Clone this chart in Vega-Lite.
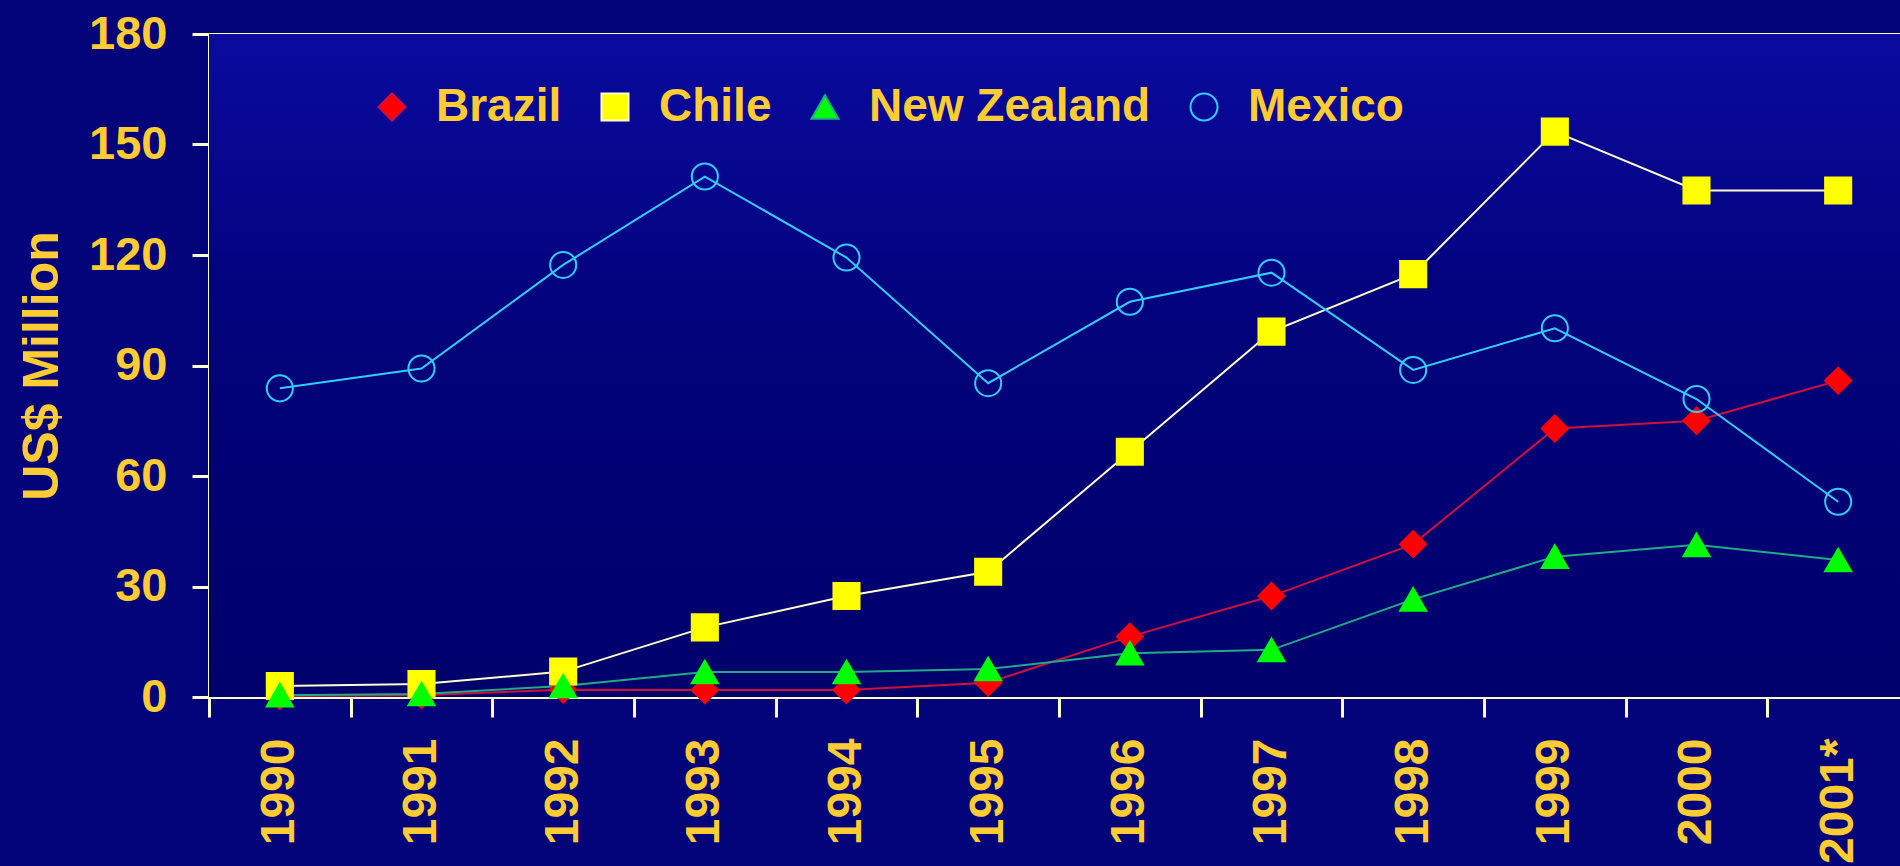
{
  "$schema": "https://vega.github.io/schema/vega-lite/v6.json",
  "autosize": {"type": "none"},
  "width": 1700,
  "height": 663,
  "padding": {"left": 209, "top": 34, "right": 0, "bottom": 169},
  "background": "#04047A",
  "config": {"view": {"stroke": null}},
  "datasets": {
    "fdi": [
      {"country": "Brazil", "year": "1990", "value": 0.3},
      {"country": "Brazil", "year": "1991", "value": 0.5},
      {"country": "Brazil", "year": "1992", "value": 2.0},
      {"country": "Brazil", "year": "1993", "value": 1.9},
      {"country": "Brazil", "year": "1994", "value": 1.9},
      {"country": "Brazil", "year": "1995", "value": 3.9},
      {"country": "Brazil", "year": "1996", "value": 16.4},
      {"country": "Brazil", "year": "1997", "value": 27.4},
      {"country": "Brazil", "year": "1998", "value": 41.5},
      {"country": "Brazil", "year": "1999", "value": 72.9},
      {"country": "Brazil", "year": "2000", "value": 75.0},
      {"country": "Brazil", "year": "2001*", "value": 85.9},
      {"country": "Chile", "year": "1990", "value": 3.0},
      {"country": "Chile", "year": "1991", "value": 3.5},
      {"country": "Chile", "year": "1992", "value": 6.9},
      {"country": "Chile", "year": "1993", "value": 18.9},
      {"country": "Chile", "year": "1994", "value": 27.4},
      {"country": "Chile", "year": "1995", "value": 34.0},
      {"country": "Chile", "year": "1996", "value": 66.6},
      {"country": "Chile", "year": "1997", "value": 99.2},
      {"country": "Chile", "year": "1998", "value": 114.8},
      {"country": "Chile", "year": "1999", "value": 153.5},
      {"country": "Chile", "year": "2000", "value": 137.5},
      {"country": "Chile", "year": "2001*", "value": 137.5},
      {"country": "New Zealand", "year": "1990", "value": 0.5},
      {"country": "New Zealand", "year": "1991", "value": 0.8},
      {"country": "New Zealand", "year": "1992", "value": 3.0},
      {"country": "New Zealand", "year": "1993", "value": 6.8},
      {"country": "New Zealand", "year": "1994", "value": 6.8},
      {"country": "New Zealand", "year": "1995", "value": 7.6},
      {"country": "New Zealand", "year": "1996", "value": 11.9},
      {"country": "New Zealand", "year": "1997", "value": 12.8},
      {"country": "New Zealand", "year": "1998", "value": 26.5},
      {"country": "New Zealand", "year": "1999", "value": 38.1},
      {"country": "New Zealand", "year": "2000", "value": 41.3},
      {"country": "New Zealand", "year": "2001*", "value": 37.2},
      {"country": "Mexico", "year": "1990", "value": 83.8},
      {"country": "Mexico", "year": "1991", "value": 89.2},
      {"country": "Mexico", "year": "1992", "value": 117.3},
      {"country": "Mexico", "year": "1993", "value": 141.3},
      {"country": "Mexico", "year": "1994", "value": 119.3},
      {"country": "Mexico", "year": "1995", "value": 85.2},
      {"country": "Mexico", "year": "1996", "value": 107.3},
      {"country": "Mexico", "year": "1997", "value": 115.2},
      {"country": "Mexico", "year": "1998", "value": 88.8},
      {"country": "Mexico", "year": "1999", "value": 100.1},
      {"country": "Mexico", "year": "2000", "value": 80.9},
      {"country": "Mexico", "year": "2001*", "value": 53.0}
    ]
  },
  "layer": [
    {
      "data": {"values": [{"panel": "plot"}]},
      "mark": {
        "type": "rect",
        "fill": {
          "gradient": "linear",
          "x1": 0, "y1": 0, "x2": 0, "y2": 1,
          "stops": [
            {"offset": 0, "color": "#0A0A9E"},
            {"offset": 0.45, "color": "#02027A"},
            {"offset": 1, "color": "#00006C"}
          ]
        }
      },
      "encoding": {}
    },
    {
      "data": {"name": "fdi"},
      "mark": {"type": "line", "strokeWidth": 2},
      "encoding": {
        "x": {
          "field": "year",
          "type": "ordinal",
          "bandPosition": 0.5,
          "scale": {"type": "band", "paddingInner": 0, "paddingOuter": 0},
          "axis": {
            "title": null,
            "labelAngle": -90,
            "labelAlign": "right",
            "labelBaseline": "middle",
            "labelFont": "Liberation Sans",
            "labelFontWeight": "bold",
            "labelFontSize": 48,
            "labelColor": "#FFCC33",
            "labelPadding": 21,
            "labelOverlap": false,
            "tickBand": "extent",
            "tickSize": 20,
            "tickWidth": 3,
            "tickColor": "#FFFFCC",
            "domainColor": "#FFFFCC",
            "domainWidth": 3,
            "grid": false
          }
        },
        "y": {
          "field": "value",
          "type": "quantitative",
          "scale": {"domain": [0, 180], "nice": false},
          "axis": {
            "title": "US$ Million",
            "values": [0, 30, 60, 90, 120, 150, 180],
            "labelFont": "Liberation Sans",
            "labelFontWeight": "bold",
            "labelFontSize": 47,
            "labelColor": "#FFCC33",
            "labelPadding": 25,
            "labelFlush": false,
            "tickSize": 17,
            "tickWidth": 3,
            "tickColor": "#FFFFCC",
            "domainColor": "#FFFFCC",
            "domainWidth": 3,
            "grid": true,
            "gridColor": {"condition": {"test": "datum.value === 180", "value": "#FFFFCC"}, "value": "#E2A29A"},
            "gridWidth": 3,
            "titleFont": "Liberation Sans",
            "titleFontWeight": "bold",
            "titleFontSize": 50,
            "titleColor": "#FFCC33",
            "titlePadding": 21
          }
        },
        "color": {
          "field": "country",
          "type": "nominal",
          "scale": {
            "domain": ["Brazil", "Chile", "New Zealand", "Mexico"],
            "range": ["#D0103A", "#FFFFCC", "#22AA88", "#33CCFF"]
          }
        }
      }
    },
    {
      "data": {"name": "fdi"},
      "mark": {"type": "point", "size": 680, "strokeWidth": 2, "opacity": 1},
      "encoding": {
        "x": {"field": "year", "type": "ordinal", "bandPosition": 0.5},
        "y": {"field": "value", "type": "quantitative"},
        "shape": {
          "field": "country",
          "type": "nominal",
          "scale": {
            "domain": ["Brazil", "Chile", "New Zealand", "Mexico"],
            "range": ["diamond", "square", "triangle-up", "circle"]
          },
          "legend": {
            "title": null,
            "orient": "none",
            "legendX": 160,
            "legendY": 50,
            "direction": "horizontal",
            "columns": 4,
            "gridAlign": "each",
            "padding": 0,
            "labelFont": "Liberation Sans",
            "labelFontWeight": "bold",
            "labelFontSize": 46,
            "labelColor": "#FFCC33",
            "labelLimit": 400,
            "labelOffset": 21,
            "columnPadding": 30,
            "symbolSize": 729,
            "symbolStrokeWidth": 2,
            "symbolOpacity": 1
          }
        },
        "fill": {
          "field": "country",
          "type": "nominal",
          "scale": {
            "domain": ["Brazil", "Chile", "New Zealand", "Mexico"],
            "range": ["#FF0000", "#FFFF00", "#00FF00", "rgba(0,0,0,0)"]
          }
        },
        "stroke": {
          "field": "country",
          "type": "nominal",
          "scale": {
            "domain": ["Brazil", "Chile", "New Zealand", "Mexico"],
            "range": ["#FF0000", "#FFFF00", "#00FF00", "#33CCFF"]
          }
        }
      }
    }
  ]
}
